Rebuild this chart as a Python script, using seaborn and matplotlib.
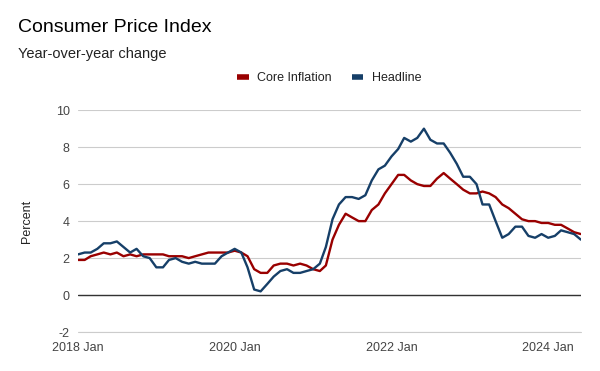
import pandas as pd
import numpy as np
import matplotlib
matplotlib.use("Agg")
import matplotlib.pyplot as plt
import seaborn as sns

start_month = "2018-01-01"
n_months = 78
core = [1.9, 1.9, 2.1, 2.2, 2.3, 2.2, 2.3, 2.1, 2.2, 2.1, 2.2, 2.2,
        2.2, 2.2, 2.1, 2.1, 2.1, 2.0, 2.1, 2.2, 2.3, 2.3, 2.3, 2.3,
        2.4, 2.3, 2.1, 1.4, 1.2, 1.2, 1.6, 1.7, 1.7, 1.6, 1.7, 1.6,
        1.4, 1.3, 1.6, 3.0, 3.8, 4.4, 4.2, 4.0, 4.0, 4.6, 4.9, 5.5,
        6.0, 6.5, 6.5, 6.2, 6.0, 5.9, 5.9, 6.3, 6.6, 6.3, 6.0, 5.7,
        5.5, 5.5, 5.6, 5.5, 5.3, 4.9, 4.7, 4.4, 4.1, 4.0, 4.0, 3.9,
        3.9, 3.8, 3.8, 3.6, 3.4, 3.3]
headline = [2.2, 2.3, 2.3, 2.5, 2.8, 2.8, 2.9, 2.6, 2.3, 2.5, 2.1, 2.0,
            1.5, 1.5, 1.9, 2.0, 1.8, 1.7, 1.8, 1.7, 1.7, 1.7, 2.1, 2.3,
            2.5, 2.3, 1.5, 0.3, 0.2, 0.6, 1.0, 1.3, 1.4, 1.2, 1.2, 1.3,
            1.4, 1.7, 2.6, 4.1, 4.9, 5.3, 5.3, 5.2, 5.4, 6.2, 6.8, 7.0,
            7.5, 7.9, 8.5, 8.3, 8.5, 9.0, 8.4, 8.2, 8.2, 7.7, 7.1, 6.4,
            6.4, 6.0, 4.9, 4.9, 4.0, 3.1, 3.3, 3.7, 3.7, 3.2, 3.1, 3.3,
            3.1, 3.2, 3.5, 3.4, 3.3, 3.0]
series_names = ["Core Inflation", "Headline"]
y_ticks = [-2, 0, 2, 4, 6, 8, 10]
x_tick_dates = ["2018-01-01", "2020-01-01", "2022-01-01", "2024-01-01"]
x_tick_labels = ["2018 Jan", "2020 Jan", "2022 Jan", "2024 Jan"]

dates = pd.date_range(start_month, periods=n_months, freq="MS")
df = pd.DataFrame({
    "date": np.concatenate([dates, dates]),
    "value": core + headline,
    "series": [series_names[0]] * n_months + [series_names[1]] * n_months,
})

sns.set_theme(style="white")
plt.rcParams["font.family"] = ["Liberation Sans", "DejaVu Sans"]

fig = plt.figure(figsize=(6, 3.71), dpi=100)
ax = fig.add_axes([0.13, 0.105, 0.838, 0.598])

palette = {"Core Inflation": "#990000", "Headline": "#163f68"}
sns.lineplot(data=df, x="date", y="value", hue="series", palette=palette,
             linewidth=1.7, ax=ax, legend=False)

ax.set_xlim(dates[0], dates[-1])
ax.set_ylim(-2, 10)
ax.set_yticks(y_ticks)
ax.set_yticklabels([str(t) for t in y_ticks])
ax.set_xticks(pd.to_datetime(x_tick_dates))
ax.set_xticklabels(x_tick_labels)
ax.tick_params(axis="both", length=0, labelsize=9, labelcolor="#444444")
ax.tick_params(axis="y", pad=6)
ax.tick_params(axis="x", pad=7)
for s in ax.spines.values():
    s.set_visible(False)
ax.grid(axis="y", color="#cccccc", linewidth=0.8)
ax.set_axisbelow(True)
ax.axhline(-2, color="#cccccc", linewidth=0.8, zorder=0.5, clip_on=False)
ax.axhline(0, color="#333333", linewidth=1.0, zorder=1.5)
ax.set_xlabel("")
ax.set_ylabel("Percent", fontsize=9, color="#222222", labelpad=16)

handles = [plt.Line2D([], [], color=palette[n], linewidth=4, solid_capstyle="butt")
           for n in series_names]
ax.legend(handles, series_names, loc="center", bbox_to_anchor=(0.5, 1.145),
          ncol=2, frameon=False, fontsize=9, handlelength=0.9,
          columnspacing=1.6, handletextpad=0.7, labelcolor="#222222")

fig.text(0.03, 0.915, "Consumer Price Index", fontsize=14, color="#000000")
fig.text(0.03, 0.845, "Year-over-year change", fontsize=10.5, color="#222222")

fig.savefig("out.png", dpi=100)
